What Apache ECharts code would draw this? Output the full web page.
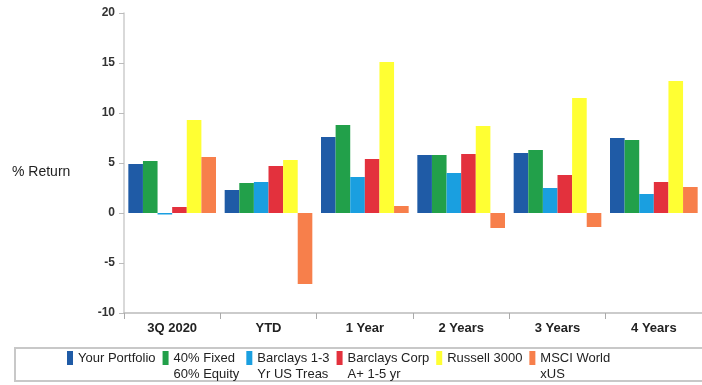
<!DOCTYPE html>
<html>
<head>
<meta charset="utf-8">
<script src="https://cdn.jsdelivr.net/npm/echarts@6/dist/echarts.min.js"></script>
<style>
  html, body { margin: 0; padding: 0; background: #fff; }
  #chart { width: 702px; height: 385px; }
</style>
</head>
<body>
<div id="chart"></div>
<script>
// периоды
const periods = ["3Q 2020", "YTD", "1 Year", "2 Years", "3 Years", "4 Years"];

// доходности по сериям, %
const yourPortfolio = [4.9, 2.3, 7.6, 5.8, 6.0, 7.5];
const fixed40Equity60 = [5.2, 3.0, 8.8, 5.8, 6.3, 7.3];
const barclays13Treas = [-0.15, 3.1, 3.6, 4.0, 2.5, 1.9];
const barclaysCorp = [0.6, 4.7, 5.4, 5.9, 3.8, 3.1];
const russell3000 = [9.3, 5.3, 15.1, 8.7, 11.5, 13.2];
const msciWorldXUS = [5.6, -7.1, 0.7, -1.5, -1.4, 2.6];

// все подписи в две строки, чтобы значок легенды стоял у первой строки
const seriesNames = [
    "Your Portfolio\n ",
    "40% Fixed\n60% Equity",
    "Barclays 1-3\nYr US Treas",
    "Barclays Corp\nA+ 1-5 yr",
    "Russell 3000\n ",
    "MSCI World\nxUS"
];
const seriesData = [yourPortfolio, fixed40Equity60, barclays13Treas, barclaysCorp, russell3000, msciWorldXUS];
const colors = ["#1f5ba6", "#22a04a", "#1a9fe0", "#e3313d", "#ffff33", "#f77f4b"];

const chart = echarts.init(document.getElementById("chart"));

const option = {
    animation: false,
    color: colors,
    title: {
        text: "% Return",
        left: 7,
        top: 160,
        textStyle: { fontFamily: "Liberation Sans", fontSize: 14, fontWeight: "normal", color: "#222" }
    },
    grid: { left: 124, right: 0, top: 13, bottom: 72 },
    legend: {
        left: 62,
        top: 345,
        itemWidth: 6,
        itemHeight: 30,
        itemGap: 7,
        // прямоугольник только в верхней части значка
        icon: "path://M0,0 L6,0 L6,14 L0,14 Z M0,30 L6,30",
        data: seriesNames,
        textStyle: { fontFamily: "Liberation Sans", fontSize: 13, color: "#222", lineHeight: 16 }
    },
    graphic: [{
        type: "rect",
        shape: { x: 15, y: 348, width: 700, height: 33 },
        style: { fill: "none", stroke: "#c8c8c8", lineWidth: 2 },
        z: -1
    }],
    xAxis: {
        type: "category",
        data: periods,
        axisLine: { onZero: false, lineStyle: { color: "#bbb", width: 1.5 } },
        axisTick: { show: true, length: 6, lineStyle: { color: "#aaa" } },
        axisLabel: { margin: 9, fontFamily: "Liberation Sans", fontSize: 13, fontWeight: "bold", color: "#222" }
    },
    yAxis: {
        type: "value",
        min: -10,
        max: 20,
        interval: 5,
        splitLine: { show: false },
        axisLine: { show: true, lineStyle: { color: "#ccc", width: 1.5 } },
        axisTick: { show: true, length: 5, lineStyle: { color: "#bbb" } },
        axisLabel: { margin: 9, fontFamily: "Liberation Sans", fontSize: 12, fontWeight: "bold", color: "#333" }
    },
    series: seriesNames.map((name, i) => ({
        name: name,
        type: "bar",
        data: seriesData[i],
        barGap: "0%",
        barCategoryGap: "9%"
    }))
};

chart.setOption(option);
</script>
</body>
</html>
